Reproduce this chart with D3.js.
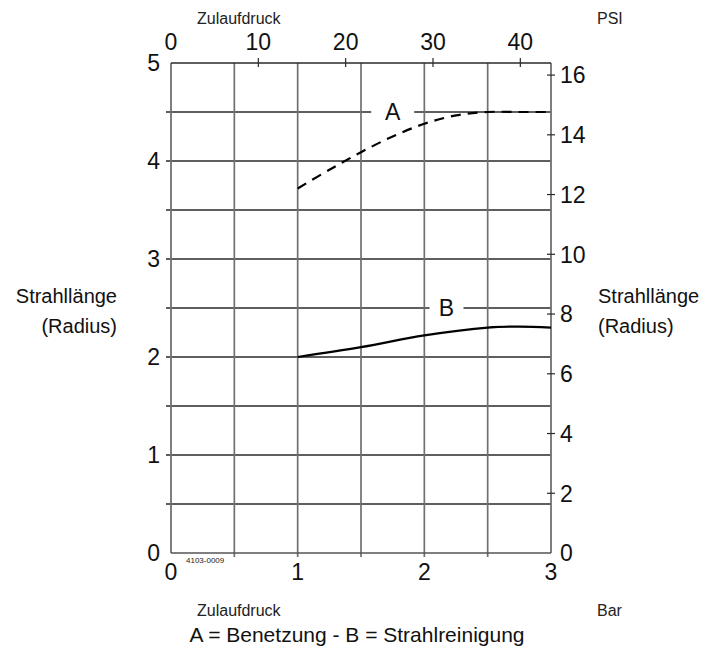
<!DOCTYPE html>
<html><head><meta charset="utf-8">
<script src="https://cdn.jsdelivr.net/npm/d3@7"></script>
<style>
html,body{margin:0;padding:0;background:#fff;}
svg{display:block;font-family:"Liberation Sans",Arial,Helvetica,sans-serif;}
</style></head>
<body>
<svg id="chart" width="718" height="648"></svg>
<script>
// ---- data ----
const barTicks = [0, 1, 2, 3];
const meterTicks = [0, 1, 2, 3, 4, 5];
const psiTicks = [0, 10, 20, 30, 40];
const ftTicks = [0, 2, 4, 6, 8, 10, 12, 14, 16];
const gridX = [0.5, 1, 1.5, 2, 2.5];
const gridY = [0.5, 1, 1.5, 2, 2.5, 3, 3.5, 4, 4.5];
const pressureA = [1, 1.25, 1.5, 1.75, 2, 2.25, 2.5, 2.75, 3];
const radiusA = [3.72, 3.91, 4.09, 4.25, 4.38, 4.465, 4.5, 4.5, 4.5];
const pressureB = [1, 1.5, 2, 2.5, 2.75, 3];
const radiusB = [2.0, 2.1, 2.22, 2.3, 2.31, 2.3];
const BAR_TO_PSI = 14.5038;
const M_TO_FT = 3.28084;

const svg = d3.select("#chart");
const L = 171, R = 551, T = 63, B = 553;
const x = d3.scaleLinear().domain([0, 3]).range([L, R]);
const y = d3.scaleLinear().domain([0, 5]).range([B, T]);
const xPsi = d3.scaleLinear().domain([0, 3 * BAR_TO_PSI]).range([L, R]);
const yFt = d3.scaleLinear().domain([0, 5 * M_TO_FT]).range([B, T]);

const g = svg.append("g");
// horizontal grid
g.selectAll(".hg").data(gridY).join("line")
  .attr("x1", L - 5).attr("x2", R)
  .attr("y1", d => y(d)).attr("y2", d => y(d))
  .attr("stroke", "#2a2a2a").attr("stroke-width", 1.3);
// vertical grid
g.selectAll(".vg").data(gridX).join("line")
  .attr("x1", d => x(d)).attr("x2", d => x(d))
  .attr("y1", T).attr("y2", B + 4)
  .attr("stroke", "#707070").attr("stroke-width", 1.7);
// borders
g.append("line").attr("x1", L).attr("x2", L).attr("y1", T).attr("y2", B)
  .attr("stroke", "#707070").attr("stroke-width", 1.8);
g.append("line").attr("x1", R).attr("x2", R).attr("y1", T).attr("y2", B)
  .attr("stroke", "#707070").attr("stroke-width", 1.8);
g.append("line").attr("x1", L).attr("x2", R).attr("y1", T).attr("y2", T)
  .attr("stroke", "#2a2a2a").attr("stroke-width", 1.4);
g.append("line").attr("x1", L).attr("x2", R).attr("y1", B).attr("y2", B)
  .attr("stroke", "#555").attr("stroke-width", 1.6);

// top PSI ticks
g.selectAll(".pt").data(psiTicks.filter(d => d > 0)).join("line")
  .attr("x1", d => xPsi(d)).attr("x2", d => xPsi(d))
  .attr("y1", T - 5).attr("y2", T + 4)
  .attr("stroke", "#2a2a2a").attr("stroke-width", 1.2);
// right ft ticks
g.selectAll(".ft").data(ftTicks.filter(d => d > 0)).join("line")
  .attr("x1", R - 4).attr("x2", R + 4)
  .attr("y1", d => yFt(d)).attr("y2", d => yFt(d))
  .attr("stroke", "#2a2a2a").attr("stroke-width", 1.2);

const tickFont = 23;
// top labels
g.selectAll(".ptl").data(psiTicks).join("text")
  .attr("x", d => xPsi(d)).attr("y", 50)
  .attr("text-anchor", "middle").attr("font-size", tickFont).attr("fill", "#111")
  .text(d => d);
// bottom labels
g.selectAll(".btl").data(barTicks).join("text")
  .attr("x", d => x(d)).attr("y", 580)
  .attr("text-anchor", "middle").attr("font-size", tickFont).attr("fill", "#111")
  .text(d => d);
// left labels
g.selectAll(".ltl").data(meterTicks).join("text")
  .attr("x", 160).attr("y", d => y(d)).attr("dy", "0.36em")
  .attr("text-anchor", "end").attr("font-size", tickFont).attr("fill", "#111")
  .text(d => d);
// right labels
g.selectAll(".rtl").data(ftTicks).join("text")
  .attr("x", 560).attr("y", d => yFt(d)).attr("dy", "0.36em")
  .attr("text-anchor", "start").attr("font-size", tickFont).attr("fill", "#111")
  .text(d => d);

// curves
const lineGen = d3.line().x(d => x(d[0])).y(d => y(d[1])).curve(d3.curveCatmullRom.alpha(0.5));
const dataA = pressureA.map((p, i) => [p, radiusA[i]]);
const dataB = pressureB.map((p, i) => [p, radiusB[i]]);
g.append("path").attr("d", lineGen(dataA)).attr("fill", "none")
  .attr("stroke", "#000").attr("stroke-width", 2.2).attr("stroke-dasharray", "10,7");
g.append("path").attr("d", lineGen(dataB)).attr("fill", "none")
  .attr("stroke", "#000").attr("stroke-width", 2.2);

// curve labels
function curveLabel(txt, cx, cy, w) {
  g.append("rect").attr("x", cx - w / 2).attr("y", cy - 12).attr("width", w).attr("height", 24).attr("fill", "#fff");
  g.append("text").attr("x", cx).attr("y", cy).attr("dy", "0.36em")
    .attr("text-anchor", "middle").attr("font-size", 23).attr("fill", "#111").text(txt);
}
curveLabel("A", x(1.75), y(4.5), 43);
curveLabel("B", x(2.175), y(2.5), 34);

// axis titles
g.append("text").attr("x", 197).attr("y", 24).attr("font-size", 16).attr("fill", "#222").text("Zulaufdruck");
g.append("text").attr("x", 597).attr("y", 24).attr("font-size", 16).attr("fill", "#222").text("PSI");
g.append("text").attr("x", 197).attr("y", 616).attr("font-size", 16).attr("fill", "#222").text("Zulaufdruck");
g.append("text").attr("x", 597).attr("y", 616).attr("font-size", 16).attr("fill", "#222").text("Bar");
g.append("text").attr("x", 357).attr("y", 642).attr("text-anchor", "middle").attr("font-size", 21).attr("fill", "#111")
  .text("A = Benetzung - B = Strahlreinigung");
g.append("text").attr("x", 186).attr("y", 563).attr("font-size", 8).attr("fill", "#222").text("4103-0009");

// side labels
g.append("text").attr("x", 117).attr("y", 303).attr("text-anchor", "end").attr("font-size", 20).attr("fill", "#111").text("Strahllänge");
g.append("text").attr("x", 117).attr("y", 333).attr("text-anchor", "end").attr("font-size", 20).attr("fill", "#111").text("(Radius)");
g.append("text").attr("x", 598).attr("y", 303).attr("font-size", 20).attr("fill", "#111").text("Strahllänge");
g.append("text").attr("x", 598).attr("y", 333).attr("font-size", 20).attr("fill", "#111").text("(Radius)");
</script>
</body></html>
